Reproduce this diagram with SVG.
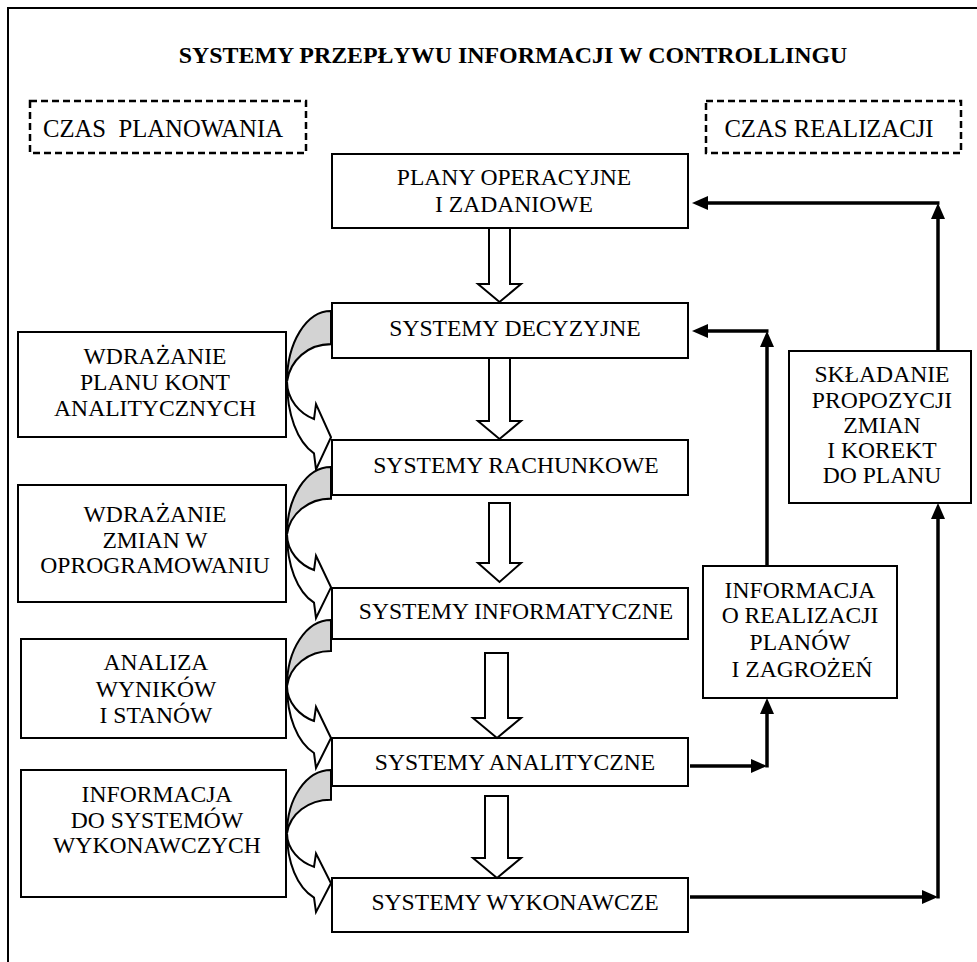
<svg xmlns="http://www.w3.org/2000/svg" width="977" height="962" viewBox="0 0 977 962">
<style>
text{font-family:"Liberation Serif","Times New Roman",serif;font-size:23.6px;fill:#000;text-anchor:middle}
.title{font-weight:bold;font-size:23.9px}
.czas{font-size:24.7px}
.box{fill:#fff;stroke:#000;stroke-width:2}
.dash{fill:none;stroke:#000;stroke-width:2.5;stroke-dasharray:7 4}
.hollow{fill:#fff;stroke:#000;stroke-width:2;stroke-linejoin:miter}
.conn{fill:none;stroke:#000;stroke-width:3.5}
.gray{fill:#d3d3d3;stroke:#000;stroke-width:2}
.white{fill:#fff;stroke:#000;stroke-width:2;stroke-linejoin:miter}
</style>
<defs>
<marker id="ah" viewBox="0 0 16 14" refX="8" refY="7" markerWidth="16" markerHeight="14" orient="auto" markerUnits="userSpaceOnUse"><path d="M0,0 L16,7 L0,14 Z" fill="#000"/></marker>
<g id="curve">
<path class="gray" d="M331,0 C306,0 287,30 287,66 C290,46 308,31 331,31 Z"/>
<path class="white" d="M287,66 C287,83 300,96 314,101 L316,87 L331,118 L316,148 L314,133 C297,122 287,96 287,66 Z"/>
</g>
</defs>

<g id="frame">
<path d="M8,962 L8,8 L977,8" fill="none" stroke="#000" stroke-width="2"/>
</g>

<text class="title" x="513" y="63">SYSTEMY PRZEPŁYWU INFORMACJI W CONTROLLINGU</text>

<g id="czas-planowania">
<rect class="dash" x="30" y="101" width="276" height="52"/>
<text class="czas" x="163" y="137" xml:space="preserve">CZAS  PLANOWANIA</text>
</g>
<g id="czas-realizacji">
<rect class="dash" x="706" y="101" width="255" height="52"/>
<text class="czas" x="829" y="137">CZAS REALIZACJI</text>
</g>

<g id="plany">
<rect class="box" x="332" y="154" width="356" height="74"/>
<text x="514" y="185">PLANY OPERACYJNE</text>
<text x="514" y="212">I ZADANIOWE</text>
</g>
<g id="decyzyjne">
<rect class="box" x="332" y="303" width="356" height="55"/>
<text x="515" y="336">SYSTEMY DECYZYJNE</text>
</g>
<g id="rachunkowe">
<rect class="box" x="332" y="440" width="356" height="55"/>
<text x="516" y="473">SYSTEMY RACHUNKOWE</text>
</g>
<g id="informatyczne">
<rect class="box" x="332" y="588" width="356" height="51"/>
<text x="516" y="619">SYSTEMY INFORMATYCZNE</text>
</g>
<g id="analityczne">
<rect class="box" x="332" y="738" width="356" height="48"/>
<text x="515" y="770">SYSTEMY ANALITYCZNE</text>
</g>
<g id="wykonawcze">
<rect class="box" x="332" y="878" width="356" height="54"/>
<text x="515" y="910">SYSTEMY WYKONAWCZE</text>
</g>

<g id="wdrazanie-planu">
<rect class="box" x="18" y="332" width="268" height="105"/>
<text x="155" y="364">WDRAŻANIE</text>
<text x="155" y="390">PLANU KONT</text>
<text x="155" y="416">ANALITYCZNYCH</text>
</g>
<g id="wdrazanie-zmian">
<rect class="box" x="18" y="485" width="268" height="117"/>
<text x="155" y="522">WDRAŻANIE</text>
<text x="155" y="548">ZMIAN W</text>
<text x="155" y="573">OPROGRAMOWANIU</text>
</g>
<g id="analiza">
<rect class="box" x="21" y="639" width="265" height="99"/>
<text x="156" y="670">ANALIZA</text>
<text x="156" y="697">WYNIKÓW</text>
<text x="156" y="723">I STANÓW</text>
</g>
<g id="informacja-wyk">
<rect class="box" x="21" y="770" width="265" height="127"/>
<text x="157" y="802">INFORMACJA</text>
<text x="157" y="828">DO SYSTEMÓW</text>
<text x="157" y="853">WYKONAWCZYCH</text>
</g>

<g id="skladanie">
<rect class="box" x="789" y="351" width="182" height="152"/>
<text x="882" y="382">SKŁADANIE</text>
<text x="882" y="408">PROPOZYCJI</text>
<text x="882" y="433">ZMIAN</text>
<text x="882" y="458">I KOREKT</text>
<text x="882" y="483">DO PLANU</text>
</g>
<g id="informacja-real">
<rect class="box" x="703" y="566" width="194" height="132"/>
<text x="800" y="598">INFORMACJA</text>
<text x="800" y="623">O REALIZACJI</text>
<text x="800" y="650">PLANÓW</text>
<text x="802" y="677">I ZAGROŻEŃ</text>
</g>

<g id="connectors">
<path class="hollow" d="M489,228 L489,284 L478,284 L499.5,302 L521,284 L510,284 L510,228 Z"/>
<path class="hollow" d="M489,358 L489,421 L478,421 L499.5,439 L521,421 L510,421 L510,358 Z"/>
<path class="hollow" d="M489,503 L489,563 L478,563 L499.5,582 L521,563 L510,563 L510,503 Z"/>
<path class="hollow" d="M485,653 L485,718 L473,718 L497,738 L521,718 L508,718 L508,653 Z"/>
<path class="hollow" d="M485,796 L485,858 L473,858 L497,878 L521,858 L508,858 L508,796 Z"/>

<use href="#curve" transform="translate(0,311) scale(1,1.07)"/>
<use href="#curve" transform="translate(0,467) scale(1,1.02)"/>
<use href="#curve" transform="translate(0,620)"/>
<use href="#curve" transform="translate(0,770) scale(1,0.96)"/>

<path class="conn" d="M938,351 L938,211" marker-end="url(#ah)"/>
<path class="conn" d="M939.5,203 L700,203" marker-end="url(#ah)"/>
<path class="conn" d="M767,566 L767,339" marker-end="url(#ah)"/>
<path class="conn" d="M768.5,331 L700,331" marker-end="url(#ah)"/>
<path class="conn" d="M690,766 L759,766" marker-end="url(#ah)"/>
<path class="conn" d="M767,767.5 L767,706" marker-end="url(#ah)"/>
<path class="conn" d="M690,897 L930,897" marker-end="url(#ah)"/>
<path class="conn" d="M938,898.5 L938,511" marker-end="url(#ah)"/>
</g>
</svg>
